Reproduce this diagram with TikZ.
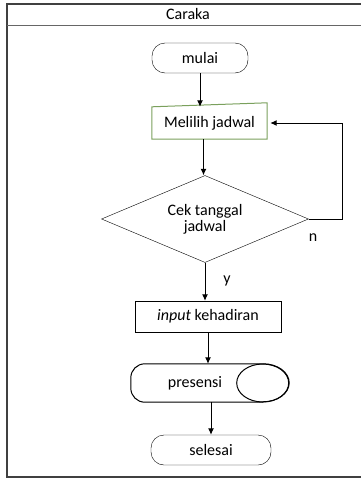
\documentclass[tikz,border=0pt]{standalone}
\usepackage{fontspec}
\setmainfont{Carlito}
\usetikzlibrary{arrows.meta,shapes.geometric}
\definecolor{hijau}{RGB}{122,160,92}
\definecolor{bingkai}{RGB}{64,64,64}
\begin{document}
\begin{tikzpicture}[x=1pt,y=-1pt,
  teks/.style={font=\fontsize{16}{19}\selectfont},
  term/.style={teks,draw,rectangle,rounded corners=13pt,inner sep=0pt,minimum height=30pt},
  kotak/.style={teks,draw,rectangle,inner sep=0pt},
  panah/.style={-{Latex[length=6.5pt,width=6pt]},line width=1pt}]
\newcommand\kiri{7}
\newcommand\kanan{361}
\newcommand\atas{4}
\newcommand\bawah{477}
\newcommand\kepala{25.5}
\useasboundingbox (0,0) rectangle (361,479);

% lane
\draw[bingkai,line width=1.5pt] (\kanan,\atas) -- (\kiri,\atas) -- (\kiri,\bawah) -- (\kanan,\bawah);
\draw[bingkai!80,line width=1.2pt] (\kiri,\kepala) -- (\kanan,\kepala);
\node[teks] (caraka) at (188,14) {Caraka};

% nodes
\node[term,minimum width=96pt] (mulai) at (200,58) {mulai};
\node[teks,inner sep=0pt,minimum width=115pt,minimum height=32pt] (pilih) at (209.5,123) {Melilih jadwal};
\draw[hijau,line width=1pt] (pilih.south west) -- (pilih.north west)
  -- ([yshift=4pt]pilih.north east) -- (pilih.south east) -- cycle;
\node[teks,draw,diamond,aspect=2.4,inner sep=0pt,align=center,
  minimum width=207pt,minimum height=87pt] (cek) at (205,219) {Cek tanggal\\[-3pt]jadwal};
\node[kotak,minimum width=146pt,minimum height=31pt] (input) at (208,316.5) {\textit{input} kehadiran};
\node[inner sep=0pt,minimum width=158pt,minimum height=38pt,
  label={[teks,xshift=-15pt]center:presensi}] (presensi) at (210,383) {};
\draw[line width=1pt,rounded corners=14pt] ([xshift=-26pt]presensi.north east) -- (presensi.north west)
  -- (presensi.south west) -- ([xshift=-26pt]presensi.south east);
\draw[line width=1pt] ([xshift=-26pt]presensi.north east)
  arc[start angle=90,end angle=-90,x radius=26pt,y radius=19pt];
\node[draw,ellipse,line width=1pt,inner sep=0pt,minimum width=52pt,minimum height=38pt,anchor=east] (cakram) at (presensi.east) {};
\node[term,minimum width=120pt] (selesai) at (211,450) {selesai};

% arrows
\draw[panah] (mulai.south) -- (mulai.south |- pilih.north);
\draw[panah] ([xshift=-6pt]pilih.south) -- ([xshift=-6pt]pilih.south |- cek.north);
\draw[panah] (cek.east) -- (342,219) |- ([xshift=3pt]pilih.east);
\draw[panah] (cek.south) -- (cek.south |- input.north);
\draw[panah] (input.south) -- (input.south |- presensi.north);
\draw[panah] ([xshift=1pt]presensi.south) -- ([xshift=1pt]presensi.south |- selesai.north);

% labels
\node[teks] (tidak) at (313,238) {n};
\node[teks] (ya) at (227,281) {y};
\end{tikzpicture}
\end{document}
